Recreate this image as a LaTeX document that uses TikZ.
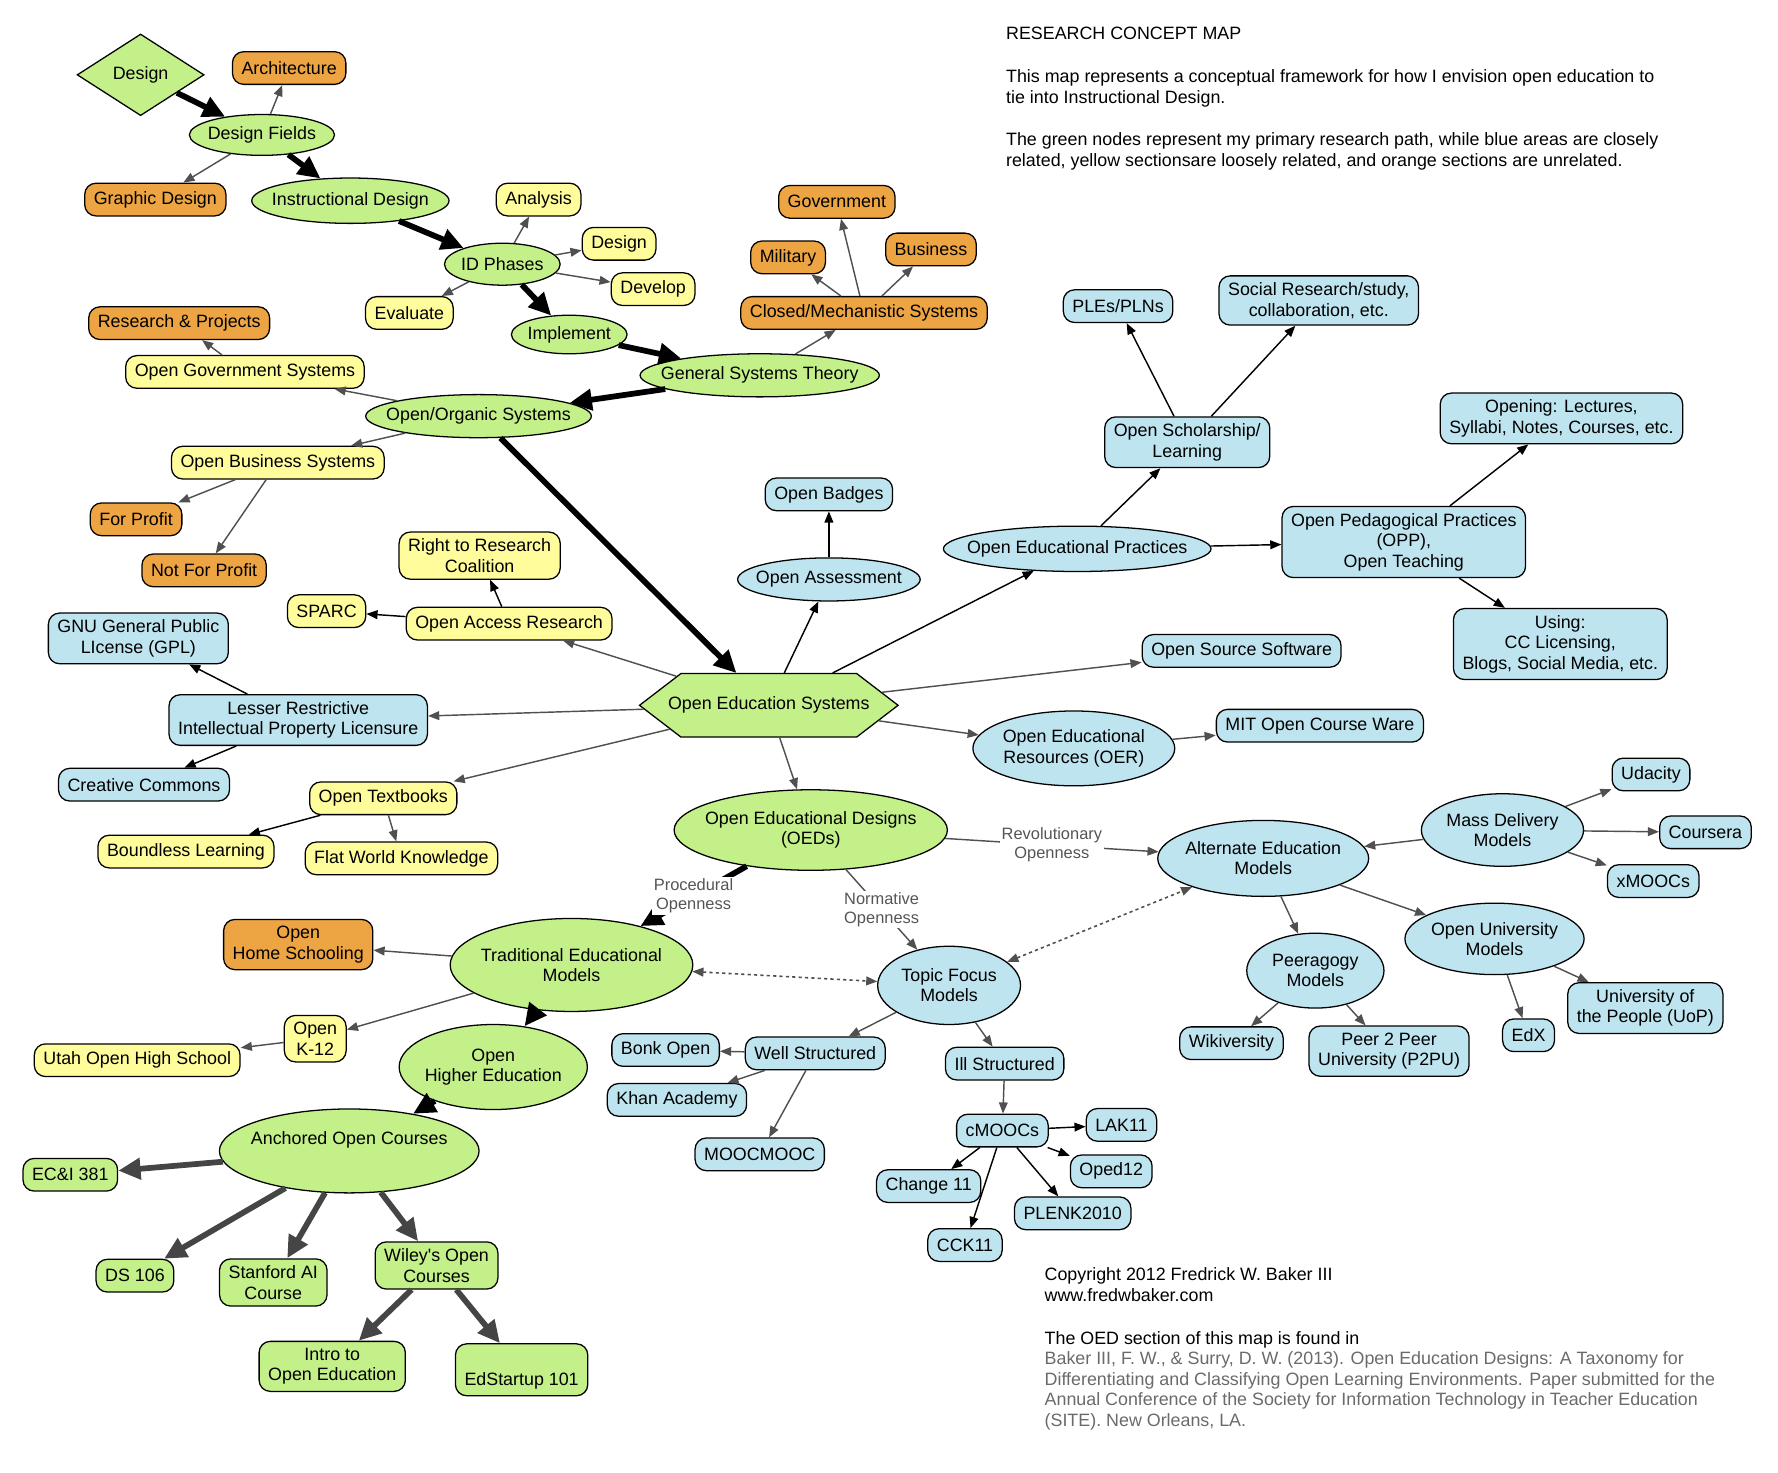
\documentclass[tikz,border=0pt]{standalone}
\usepackage{fontspec}
\setmainfont{Liberation Sans}
\usetikzlibrary{arrows.meta, positioning, shapes.geometric, shapes.symbols}
\definecolor{greenc}{HTML}{C4F08A}
\definecolor{bluec}{HTML}{BEE4EF}
\definecolor{yelc}{HTML}{FFFC9C}
\definecolor{orc}{HTML}{EDA443}
\definecolor{linkc}{HTML}{505050}
\definecolor{lblc}{HTML}{555555}
\definecolor{citec}{HTML}{6A6A6A}
\tikzset{
  sz/.style 2 args={minimum width=#1*0.025cm, minimum height=#2*0.025cm},
  box/.style={draw, line width=0.8pt, rounded corners=7pt, inner xsep=0.2cm,
              inner ysep=0.15cm, minimum height=0.72cm, align=center},
  gbox/.style={box, fill=greenc},
  bbox/.style={box, fill=bluec},
  ybox/.style={box, fill=yelc},
  obox/.style={box, fill=orc},
  oval/.style={ellipse, draw, line width=0.8pt, inner xsep=-1cm,
               inner ysep=-0.5cm, align=center},
  goval/.style={oval, fill=greenc},
  boval/.style={oval, fill=bluec},
  gdia/.style={diamond, draw, line width=0.8pt, fill=greenc, inner sep=0pt},
  ghex/.style={signal, signal to=west and east, signal pointer angle=75,
               draw, line width=0.8pt, fill=greenc, inner xsep=-0.5cm},
  lbl/.style={fill=white, text=lblc, inner sep=1pt, align=center,
              font=\fontsize{10.3}{12}\selectfont},
  txt/.style={inner sep=0pt, align=left},
  mainln/.style={black, line width=3.6pt, -{Triangle[length=14pt, width=13pt]}},
  subln/.style={black!73, line width=3.6pt, -{Triangle[length=14pt, width=13pt]}},
  lnk/.style={linkc, line width=0.9pt, -{Triangle[length=7pt, width=5.5pt]}},
  blk/.style={black, line width=0.9pt, -{Triangle[length=7pt, width=5.5pt]}},
  dotln/.style={linkc, line width=1pt, dash pattern=on 2pt off 2pt,
                {Triangle[length=7pt, width=5.5pt]}-{Triangle[length=7pt, width=5.5pt]}}
}

\begin{document}
\begin{tikzpicture}[x=0.025cm, y=-0.025cm, font=\fontsize{11.2}{12.8}\selectfont]
  \useasboundingbox (0,0) rectangle (1568,1299);

  \node[gdia, sz={112}{72}] (design) at (124,66) {Design};
  \node[obox] (archi) at (255,60) {Architecture};
  \node[goval, sz={128}{36}] (fields) at (231,119) {Design Fields};
  \node[obox] (graphic) at (137,176) {Graphic Design};
  \node[goval, sz={174}{40}] (instr) at (309,177) {Instructional Design};
  \node[ybox] (analysis) at (475,176) {Analysis};
  \node[goval, sz={102}{37}] (phases) at (443,233) {ID Phases};
  \node[ybox] (dsgn) at (546,215) {Design};
  \node[ybox] (develop) at (576,255) {Develop};
  \node[ybox] (evaluate) at (361,276) {Evaluate};
  \node[goval, sz={102}{34}] (implement) at (502,295) {Implement};
  \node[goval, sz={211}{38}] (gst) at (670,331) {General Systems Theory};
  \node[obox] (closed) at (762,276) {Closed/Mechanistic Systems};
  \node[obox] (military) at (695,227) {Military};
  \node[obox] (govt) at (738,178) {Government};
  \node[obox] (business) at (821,220) {Business};
  \node[obox] (resproj) at (158,285) {Research \& Projects};
  \node[ybox] (opengov) at (216,328) {Open Government Systems};
  \node[goval, sz={199}{38}] (organic) at (422,367) {Open/Organic Systems};
  \node[ybox] (openbiz) at (245,408) {Open Business Systems};
  \node[obox] (forprofit) at (120,458) {For Profit};
  \node[obox] (nonprofit) at (180,503) {Not For Profit};
  \node[ybox] (rtrc) at (423,490) {Right to Research\\Coalition};
  \node[ybox] (sparc) at (288,539) {SPARC};
  \node[ybox] (openacc) at (449,550) {Open Access Research};
  \node[bbox] (gnu) at (122,563) {GNU General Public\\LIcense (GPL)};
  \node[bbox] (lesser) at (263,635) {Lesser Restrictive\\Intellectual Property Licensure};
  \node[bbox] (cc) at (127,692) {Creative Commons};
  \node[ybox] (textbooks) at (338,704) {Open Textbooks};
  \node[ybox] (boundless) at (164,751) {Boundless Learning};
  \node[ybox] (flatworld) at (354,757) {Flat World Knowledge};

  \node[ghex, sz={228}{56}] (oes) at (678,622) {Open Education Systems};
  \node[bbox] (badges) at (731,436) {Open Badges};
  \node[boval, sz={161}{38}] (assess) at (731,511) {Open Assessment};
  \node[boval, sz={236}{40}] (oep) at (950,484) {Open Educational Practices};
  \node[bbox] (scholar) at (1047,390) {Open Scholarship/\\Learning};
  \node[bbox] (ples) at (986,270) {PLEs/PLNs};
  \node[bbox] (social) at (1163,265) {Social Research/study,\\collaboration, etc.};
  \node[bbox] (opp) at (1238,478) {Open Pedagogical Practices\\(OPP),\\Open Teaching};
  \node[bbox] (opening) at (1377,369) {Opening: Lectures,\\Syllabi, Notes, Courses, etc.};
  \node[bbox] (using) at (1376,568) {Using:\\CC Licensing,\\Blogs, Social Media, etc.};
  \node[bbox] (oss) at (1095,574) {Open Source Software};
  \node[boval, sz={178}{66}] (oer) at (947,660) {Open Educational\\Resources (OER)};
  \node[bbox] (mit) at (1164,640) {MIT Open Course Ware};

  \node[goval, sz={241}{71}] (oeds) at (715,732) {Open Educational Designs\\(OEDs)};
  \node[boval, sz={186}{67}] (altern) at (1114,757) {Alternate Education\\Models};
  \node[boval, sz={143}{64}] (mass) at (1325,732) {Mass Delivery\\Models};
  \node[bbox] (udacity) at (1456,683) {Udacity};
  \node[bbox] (coursera) at (1504,734) {Coursera};
  \node[bbox] (xmoocs) at (1458,777) {xMOOCs};
  \node[boval, sz={158}{63}] (openuni) at (1318,828) {Open University\\Models};
  \node[boval, sz={121}{66}] (peer) at (1160,856) {Peeragogy\\Models};
  \node[bbox] (wikiv) at (1086,920) {Wikiversity};
  \node[bbox] (p2pu) at (1225,927) {Peer 2 Peer\\University (P2PU)};
  \node[bbox] (edx) at (1348,913) {EdX};
  \node[bbox] (uop) at (1451,889) {University of\\the People (UoP)};

  \node[goval, sz={214}{82}] (trad) at (504,851) {Traditional Educational\\Models};
  \node[obox] (home) at (263,833) {Open\\Home Schooling};
  \node[ybox] (k12) at (278,916) {Open\\K-12};
  \node[ybox] (utah) at (121,935) {Utah Open High School};
  \node[goval, sz={166}{75}] (higher) at (435,941) {Open\\Higher Education};
  \node[goval, sz={229}{74}, text height=8.5pt, text depth=16pt] (anchored) at (308,1015) {Anchored Open Courses};
  \node[gbox] (ecandi) at (62,1036) {EC\&I 381};
  \node[gbox] (ds) at (119,1125) {DS 106};
  \node[gbox] (stanford) at (241,1131) {Stanford AI\\Course};
  \node[gbox] (wiley) at (385,1116) {Wiley\textquotesingle s Open\\Courses};
  \node[gbox] (intro) at (293,1205) {Intro to\\Open Education};
  \node[gbox, text height=22pt, text depth=2pt] (edstart) at (460,1208) {EdStartup 101};

  \node[boval, sz={126}{69}] (topic) at (837,869) {Topic Focus\\Models};
  \node[bbox] (well) at (719,929) {Well Structured};
  \node[bbox] (bonk) at (587,926) {Bonk Open};
  \node[bbox] (khan) at (597,970) {Khan Academy};
  \node[bbox] (moocmooc) at (670,1018) {MOOCMOOC};
  \node[bbox] (ill) at (886,938) {Ill Structured};
  \node[bbox] (cmoocs) at (884,997) {cMOOCs};
  \node[bbox] (lak) at (989,992) {LAK11};
  \node[bbox] (oped) at (980,1033) {Oped12};
  \node[bbox] (change) at (819,1046) {Change 11};
  \node[bbox] (plenk) at (946,1070) {PLENK2010};
  \node[bbox] (cck) at (851,1098) {CCK11};

  \node[txt, anchor=north west] (title) at (887,24) {RESEARCH CONCEPT MAP\\[14pt]This map represents a conceptual framework for how I envision open education to\\tie into Instructional Design.\\[14pt]The green nodes represent my primary research path, while blue areas are closely\\related, yellow sectionsare loosely related, and orange sections are unrelated.};
  \node[txt, anchor=north west] (copyr) at (921,1118) {Copyright 2012 Fredrick W. Baker III\\www.fredwbaker.com\\[14pt]The OED section of this map is found in};
  \node[txt, text=citec, anchor=north west] (cite) at (921,1192) {Baker III, F. W., \& Surry, D. W. (2013). Open Education Designs: A Taxonomy for\\Differentiating and Classifying Open Learning Environments. Paper submitted for the\\Annual Conference of the Society for Information Technology in Teacher Education\\(SITE). New Orleans, LA.};

  \foreach \a/\b in {design/fields, fields/instr, instr/phases, phases/implement,
      implement/gst, gst/organic, organic/oes, trad/higher, higher/anchored}
    \draw[mainln] (\a) -- (\b);
  \foreach \a/\b in {anchored/ecandi, anchored/ds, anchored/stanford, anchored/wiley,
      wiley/intro, wiley/edstart}
    \draw[subln] (\a) -- (\b);
  \foreach \a/\b in {fields/archi, fields/graphic, phases/analysis, phases/dsgn,
      phases/develop, phases/evaluate, gst/closed, closed/military, closed/govt,
      closed/business, organic/opengov, opengov/resproj, organic/openbiz,
      openbiz/forprofit, openbiz/nonprofit, oes/openacc, oes/lesser, oes/textbooks,
      oes/oss, oes/oer, oes/oeds, oer/mit, textbooks/flatworld, mass/altern,
      mass/udacity, mass/coursera, mass/xmoocs, altern/peer, altern/openuni,
      peer/wikiv, peer/p2pu, openuni/edx, openuni/uop, trad/home, trad/k12,
      k12/utah, topic/well, topic/ill, well/bonk, well/khan, well/moocmooc, ill/cmoocs}
    \draw[lnk] (\a) -- (\b);
  \foreach \a/\b in {oes/assess, assess/badges, oes/oep, oep/scholar, scholar/ples,
      scholar/social, oep/opp, opp/opening, opp/using, openacc/sparc, openacc/rtrc,
      lesser/gnu, lesser/cc, textbooks/boundless, cmoocs/lak, cmoocs/oped,
      cmoocs/change, cmoocs/plenk, cmoocs/cck}
    \draw[blk] (\a) -- (\b);

  \draw[mainln] (oeds) -- node[lbl] (procl) {Procedural\\Openness} (trad);
  \draw[lnk] (oeds) -- node[lbl] (revl) {Revolutionary\\Openness} (altern);
  \draw[lnk] (oeds) -- node[lbl] (norml) {Normative\\Openness} (topic);
  \draw[dotln] (trad) -- (topic);
  \draw[dotln] (topic) -- (altern);
\end{tikzpicture}
\end{document}
